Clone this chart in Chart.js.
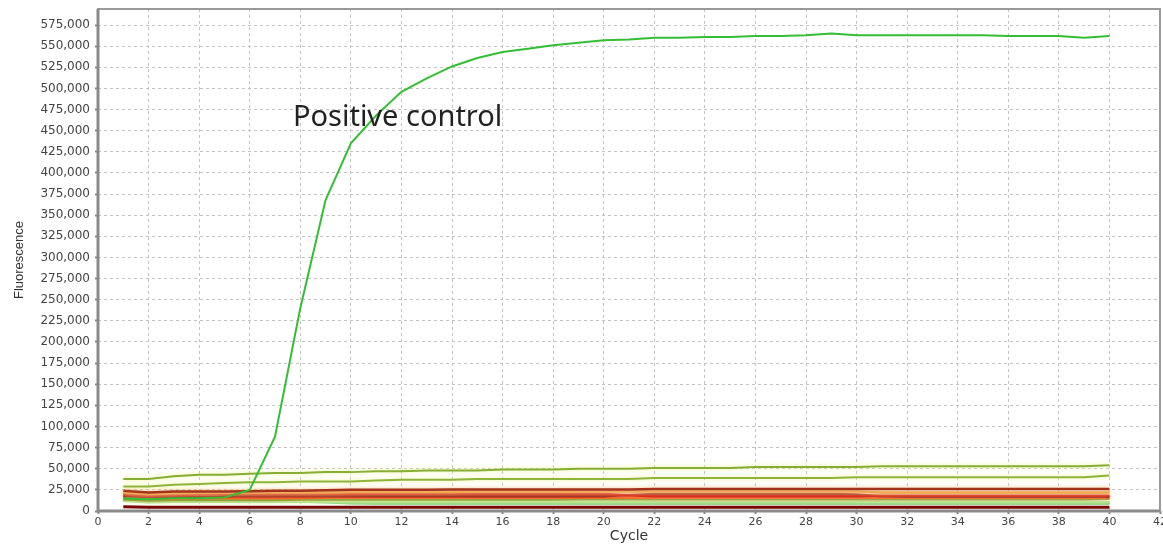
<!DOCTYPE html>
<html>
<head>
<meta charset="utf-8">
<title>Fluorescence vs Cycle</title>
<script src="https://cdn.jsdelivr.net/npm/chart.js@4.4.1/dist/chart.umd.min.js"></script>
<style>
  html, body { margin:0; padding:0; background:#fff; }
  #wrap { width:1163px; height:545px; position:relative; }
</style>
</head>
<body>
<div id="wrap"><canvas id="c"></canvas></div>
<script>
// cycles 1..40
const cycles = [1,2,3,4,5,6,7,8,9,10,11,12,13,14,15,16,17,18,19,20,21,22,23,24,25,26,27,28,29,30,31,32,33,34,35,36,37,38,39,40];

// positive control (the one that amplifies)
const positive = [15000,14000,15000,15000,16000,25000,88000,240000,368000,435000,468000,496000,512000,526000,536000,543000,547000,551000,554000,557000,558000,560000,560000,561000,561000,562000,562000,563000,565000,563000,563000,563000,563000,563000,563000,562000,562000,562000,560000,562000];

// the two upper flat samples
const upperA = [38000,38000,41000,43000,43000,44000,45000,45000,46000,46000,47000,47000,48000,48000,48000,49000,49000,49000,50000,50000,50000,51000,51000,51000,51000,52000,52000,52000,52000,52000,53000,53000,53000,53000,53000,53000,53000,53000,53000,54000];
const upperB = [29000,29000,31000,32000,33000,34000,34000,35000,35000,35000,36000,37000,37000,37000,38000,38000,38000,38000,38000,38000,38000,39000,39000,39000,39000,39000,39000,39000,39000,40000,40000,40000,40000,40000,40000,40000,40000,40000,40000,42000];

// low cluster (negatives / background)
const lowBrown  = [24000,22000,23000,23000,23000,23500,24000,24000,24500,25000,25000,25000,25000,25500,25500,25500,25500,25500,25500,25500,25500,26000,26000,26000,26000,26000,26000,26000,26000,26000,26000,26000,26000,26000,26000,26000,26000,26000,26000,26000];
const lowOrange = [22000,20000,21000,21500,22000,22000,22000,22000,22000,22500,22500,22500,22500,22500,23000,23000,23000,23000,23000,23000,23000,23000,23000,23000,23000,23000,23000,23000,23000,23000,22000,22000,22000,22000,22000,22000,22000,22000,22000,22000];
const lowRed    = [20000,18000,19000,19500,20000,20000,20000,20000,20000,20000,20500,20500,20500,20500,20500,20500,20500,20500,20000,20000,18500,17500,17500,17500,17500,17500,17500,17500,17500,17500,18000,18000,18000,18000,18000,18000,18000,18000,18000,18000];
const lowDarkRed= [18000,17000,17000,17000,17500,17500,17500,17500,17500,17500,17500,17500,17500,17500,17500,17500,17500,17500,17500,17500,19000,20000,20000,20000,20000,20000,20000,20000,20000,19500,17500,17000,17000,17000,17000,17000,17000,17000,17000,17000];
const lowScarlet= [17000,14500,15000,15500,15500,15500,15500,15500,16000,16000,16000,16000,16000,16000,16000,16000,16000,16000,16000,16000,16000,16000,16000,16000,16000,16000,16000,16000,16000,16000,16000,16000,16000,16000,16000,16000,16000,16000,16000,16000];
const lowOlive  = [14000,12500,13000,13000,13000,13000,13000,13500,13500,13500,13500,13500,13500,13500,13500,13500,13500,13500,14000,14000,14000,14000,14000,14000,14000,14000,14000,14000,14000,14000,14000,14000,14000,14000,14000,14000,14000,14000,14000,14500];
const lowLight  = [12000,10500,11000,11000,11000,11000,11000,11000,11000,10500,10500,10500,10500,10500,10500,10500,10500,10500,10500,10500,10500,10500,10500,10500,10500,10500,10500,10500,10500,10500,10500,10500,10500,10500,10500,10500,10500,10500,10500,10500];
const lowGreen  = [12000,11000,11500,11500,11500,11500,11500,11000,10000,9000,8500,8500,8500,8500,8500,8500,8500,8500,8500,8500,8500,8500,8500,8500,8500,8500,8500,8500,8500,8500,8500,8500,8500,8500,8500,8500,8500,8500,8500,8500];
const lowBottom = [5000,4500,4500,4500,4500,4500,4500,4500,4500,4500,4500,4500,4500,4500,4500,4500,4500,4500,4500,4500,4500,4500,4500,4500,4500,4500,4500,4500,4500,4500,4500,4500,4500,4500,4500,4500,4500,4500,4500,4500];

const xTicks = [0,2,4,6,8,10,12,14,16,18,20,22,24,26,28,30,32,34,36,38,40,42];
const yTicks = [0,25000,50000,75000,100000,125000,150000,175000,200000,225000,250000,275000,300000,325000,350000,375000,400000,425000,450000,475000,500000,525000,550000,575000];
const annot = { text:'Positive control', x:7.71, y:455500 };

const pts = arr => arr.map((v, i) => ({ x: cycles[i], y: v }));
const mk = (data, color, width, glow) => ({
  data: pts(data), borderColor: color, borderWidth: width || 2,
  pointRadius: 0, tension: 0, fill: false, glow: glow || null,
});

// soft halo the instrument software paints around its traces
const glowPlugin = {
  id: 'glow',
  beforeDatasetDraw(chart, args) {
    const ds = chart.data.datasets[args.index];
    chart.ctx.save();
    if (ds.glow) { chart.ctx.shadowColor = ds.glow; chart.ctx.shadowBlur = 4; }
  },
  afterDatasetDraw(chart) { chart.ctx.restore(); },
};

const framePlugin = {
  id: 'frame',
  afterDraw(chart) {
    const { ctx, chartArea: a, scales } = chart;
    ctx.save();
    ctx.strokeStyle = '#9a9a9a'; ctx.lineWidth = 2;
    ctx.strokeRect(a.left, a.top, a.right - a.left, a.bottom - a.top);
    ctx.strokeStyle = '#8a8a8a'; ctx.lineWidth = 3;
    ctx.beginPath();
    ctx.moveTo(a.left, a.top); ctx.lineTo(a.left, a.bottom); ctx.lineTo(a.right, a.bottom);
    ctx.stroke();
    // annotation
    ctx.fillStyle = '#222';
    ctx.font = '29px "Noto Sans"';
    ctx.textBaseline = 'alphabetic';
    ctx.fillText(annot.text, scales.x.getPixelForValue(annot.x), scales.y.getPixelForValue(annot.y));
    ctx.restore();
  },
};

new Chart(document.getElementById('c'), {
  type: 'line',
  data: {
    datasets: [
      mk(positive,  '#35bd35', 2),
      mk(upperA,    '#86ad36', 2, '#eef58a'),
      mk(upperB,    '#8fb43e', 2, '#eef58a'),
      mk(lowBottom, '#7a0606', 3),
      mk(lowBrown,  '#a2321c', 2.5, '#f2c48a'),
      mk(lowOrange, '#f0a046', 2.5, '#f8d890'),
      mk(lowRed,    '#d42a1a', 2.5, '#f39a70'),
      mk(lowDarkRed,'#8c0c0c', 2.5),
      mk(lowScarlet,'#ff5a1e', 2.5, '#ffb080'),
      mk(lowOlive,  '#6c9c20', 2.5, '#e8f0a0'),
      mk(lowLight,  '#a6e48c', 2.5, '#e6f8c8'),
      mk(lowGreen,  '#4cb84c', 2),
    ],
  },
  options: {
    responsive: true, maintainAspectRatio: false, animation: false,
    layout: { padding: { top: 9, right: 3, left: 0, bottom: 0 } },
    plugins: { legend: { display: false }, tooltip: { enabled: false } },
    scales: {
      x: {
        type: 'linear', min: 0, max: 42,
        afterBuildTicks: s => { s.ticks = xTicks.map(v => ({ value: v })); },
        afterFit: s => { s.height = 34; s.paddingLeft = 0; s.paddingRight = 0; },
        ticks: { color: '#444', font: { family: 'DejaVu Sans', size: 11 }, padding: 2, maxRotation: 0, autoSkip: false },
        grid: { color: '#c4c4c4', lineWidth: 1, drawTicks: true, tickLength: 3, tickColor: '#888', tickWidth: 2 },
        border: { display: false, dash: [3, 3] },
        title: { display: true, text: 'Cycle', color: '#333', font: { family: 'DejaVu Sans', size: 14 }, padding: { top: 0, bottom: 0 } },
      },
      y: {
        min: 0, max: 594000,
        afterBuildTicks: s => { s.ticks = yTicks.map(v => ({ value: v })); },
        afterFit: s => { s.width = 98; s.paddingTop = 0; s.paddingBottom = 0; },
        ticks: {
          color: '#444', padding: 5, autoSkip: false,
          font: { family: 'DejaVu Sans', size: 12 },
          callback: v => v.toLocaleString('en-US'),
        },
        grid: { color: '#c4c4c4', lineWidth: 1, drawTicks: true, tickLength: 3, tickColor: '#888', tickWidth: 2 },
        border: { display: false, dash: [3, 3] },
        title: { display: true, text: 'Fluorescence', color: '#333', font: { family: 'Liberation Sans', size: 13 }, padding: { top: 12, bottom: 0 } },
      },
    },
  },
  plugins: [glowPlugin, framePlugin],
});
</script>
</body>
</html>
